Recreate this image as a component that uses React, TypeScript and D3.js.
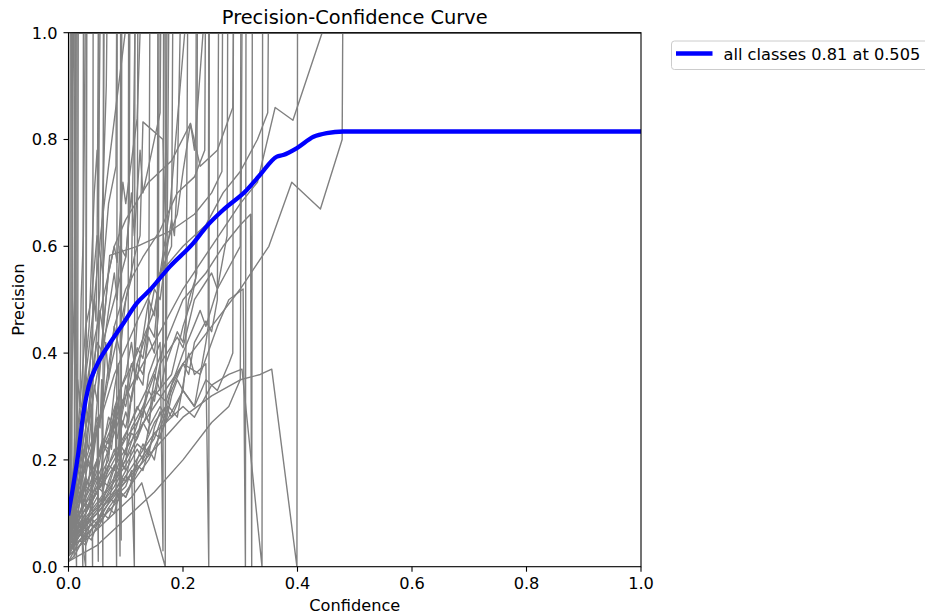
import React from "react";
import * as d3 from "d3";

// Mean precision over all classes, sampled along confidence
const meanConf = [0, 0.017, 0.026, 0.035, 0.049, 0.072, 0.096, 0.119, 0.142, 0.177, 0.218, 0.241, 0.27, 0.311, 0.334, 0.364, 0.375, 0.399, 0.428, 0.451, 0.48, 0.505, 0.527, 1.0];
const meanPrecision = [0.1, 0.212, 0.287, 0.337, 0.376, 0.418, 0.456, 0.493, 0.518, 0.562, 0.606, 0.637, 0.668, 0.705, 0.733, 0.768, 0.771, 0.784, 0.805, 0.812, 0.815, 0.815, 0.815, 0.815];

// Per-class curves whose detections all sit near zero confidence
const earlyClasses: [number, number][][] = [
  [[0, 0.02], [0.002, 0.05], [0.003, 1], [1, 1]],
  [[0, 0.03], [0.002, 0.06], [0.003, 0.04], [0.004, 0.15], [0.005, 1], [1, 1]],
  [[0, 0.04], [0.003, 0.1], [0.005, 0.07], [0.006, 0.18], [0.007, 1], [1, 1]],
  [[0, 0.05], [0.003, 0.12], [0.005, 0.3], [0.007, 0.55], [0.008, 0.9], [0.009, 1], [1, 1]],
  [[0, 0.03], [0.004, 0.09], [0.007, 0.06], [0.01, 0.02], [0.011, 1], [1, 1]],
  [[0, 0.06], [0.004, 0.1], [0.008, 0.14], [0.011, 0.25], [0.012, 0.38], [0.013, 1], [1, 1]],
  [[0, 0.02], [0.005, 0.06], [0.009, 0.04], [0.012, 0.08], [0.014, 0.0], [0.015, 1], [1, 1]],
  [[0, 0.05], [0.005, 0.1], [0.01, 0.12], [0.013, 0.19], [0.016, 0.22], [0.017, 1], [1, 1]],
  [[0, 0.04], [0.006, 0.07], [0.01, 0.09], [0.015, 0.13], [0.02, 0.17], [0.023, 0.12], [0.025, 0.0], [0.026, 1], [1, 1]],
  [[0, 0.07], [0.006, 0.1], [0.01, 0.12], [0.016, 0.18], [0.02, 0.2], [0.025, 0.26], [0.028, 0.3], [0.031, 0.42], [0.032, 1], [1, 1]],
  [[0, 0.05], [0.01, 0.09], [0.015, 0.08], [0.02, 0.13], [0.03, 0.17], [0.035, 0.15], [0.04, 0.22], [0.05, 0.28], [0.055, 0.26], [0.058, 0.35], [0.06, 0.0], [0.061, 1], [1, 1]],
  [[0, 0.08], [0.008, 0.12], [0.015, 0.16], [0.022, 0.21], [0.03, 0.26], [0.038, 0.3], [0.045, 0.37], [0.05, 0.45], [0.055, 0.52], [0.06, 0.7], [0.066, 0.9], [0.067, 1], [1, 1]],
  [[0, 0.03], [0.005, 0.07], [0.01, 0.12], [0.012, 0.2], [0.016, 0.35], [0.02, 0.3], [0.022, 0.5], [0.026, 0.62], [0.028, 0.85], [0.029, 1], [1, 1]],
  [[0, 0.1], [0.003, 0.2], [0.006, 0.35], [0.01, 0.5], [0.012, 0.8], [0.013, 1], [1, 1]],
  [[0, 0.04], [0.01, 0.1], [0.02, 0.08], [0.03, 0.0], [0.031, 1], [1, 1]],
  [[0, 0.06], [0.01, 0.14], [0.018, 0.22], [0.025, 0.3], [0.03, 0.38], [0.036, 0.45], [0.04, 0.56], [0.045, 0.7], [0.05, 0.78], [0.052, 0.68], [0.055, 1], [1, 1]],
  [[0, 0.06], [0.005, 0.09], [0.01, 0.08], [0.015, 0.12], [0.02, 0.14], [0.025, 0.13], [0.03, 0.17], [0.035, 0.2], [0.04, 0.18], [0.045, 0.23], [0.05, 0.26], [0.052, 0.01], [0.053, 1], [1, 1]],
  [[0, 0.08], [0.005, 0.11], [0.01, 0.14], [0.015, 0.13], [0.02, 0.18], [0.025, 0.22], [0.03, 0.2], [0.035, 0.26], [0.04, 0.3], [0.042, 0.0], [0.043, 1], [1, 1]],
  [[0, 0.05], [0.005, 0.08], [0.01, 0.1], [0.015, 0.15], [0.02, 0.13], [0.025, 0.19], [0.03, 0.24], [0.035, 0.22], [0.04, 0.28], [0.045, 0.34], [0.05, 0.31], [0.055, 0.38], [0.06, 0.44], [0.062, 1], [1, 1]],
  [[0, 0.09], [0.005, 0.14], [0.01, 0.18], [0.015, 0.24], [0.02, 0.22], [0.025, 0.3], [0.03, 0.36], [0.035, 0.33], [0.04, 0.42], [0.045, 0.5], [0.048, 0.46], [0.05, 0.6], [0.052, 1], [1, 1]],
];

// Classes whose highest confidence falls between roughly 0.08 and 0.25
const midClasses: [number, number][][] = [
  [[0, 0.03], [0.02, 0.07], [0.03, 0.06], [0.04, 0.12], [0.05, 0.14], [0.06, 0.18], [0.07, 0.2], [0.075, 0.26], [0.082, 0.3], [0.084, 0.0], [0.085, 1], [1, 1]],
  [[0, 0.06], [0.02, 0.1], [0.03, 0.14], [0.04, 0.16], [0.05, 0.2], [0.06, 0.24], [0.07, 0.23], [0.08, 0.33], [0.087, 0.38], [0.09, 0.02], [0.091, 1], [1, 1]],
  [[0, 0.1], [0.01, 0.18], [0.02, 0.28], [0.035, 0.4], [0.045, 0.5], [0.056, 0.62], [0.07, 0.75], [0.099, 1], [1, 1]],
  [[0, 0.1], [0.01, 0.2], [0.02, 0.3], [0.03, 0.45], [0.04, 0.5], [0.05, 0.62], [0.06, 0.55], [0.07, 0.68], [0.083, 0.75], [0.084, 1], [1, 1]],
  [[0, 0.09], [0.02, 0.15], [0.04, 0.22], [0.05, 0.26], [0.06, 0.3], [0.075, 0.38], [0.09, 0.45], [0.1, 0.5], [0.115, 0.58], [0.125, 0.62], [0.13, 0.833], [0.165, 0.8], [0.17, 0.62], [0.172, 1], [1, 1]],
  [[0, 0.04], [0.03, 0.08], [0.06, 0.12], [0.08, 0.15], [0.09, 0.17], [0.1, 0.16], [0.11, 0.22], [0.13, 0.27], [0.14, 0.25], [0.145, 0.32], [0.155, 0.38], [0.156, 1], [1, 1]],
  [[0, 0.07], [0.02, 0.17], [0.04, 0.3], [0.06, 0.42], [0.08, 0.5], [0.1, 0.58], [0.11, 0.7], [0.115, 0.62], [0.125, 0.78], [0.13, 0.7], [0.16, 0.85], [0.161, 1], [1, 1]],
  [[0, 0.05], [0.03, 0.1], [0.06, 0.16], [0.07, 0.15], [0.09, 0.22], [0.12, 0.3], [0.13, 0.28], [0.14, 0.36], [0.16, 0.42], [0.165, 0.03], [0.166, 1], [1, 1]],
  [[0, 0.02], [0.03, 0.05], [0.06, 0.08], [0.09, 0.11], [0.11, 0.13], [0.128, 0.157], [0.169, 0], [0.17, 1], [1, 1]],
  [[0, 0.07], [0.03, 0.12], [0.06, 0.19], [0.09, 0.28], [0.1, 0.26], [0.12, 0.38], [0.14, 0.45], [0.15, 0.43], [0.16, 0.55], [0.177, 0.67], [0.203, 1], [1, 1]],
  [[0, 0.05], [0.03, 0.13], [0.06, 0.23], [0.09, 0.33], [0.12, 0.4], [0.15, 0.48], [0.17, 0.6], [0.19, 0.66], [0.2, 0.74], [0.213, 0.83], [0.22, 0.78], [0.235, 1], [1, 1]],
  [[0, 0.05], [0.04, 0.1], [0.08, 0.16], [0.1, 0.2], [0.12, 0.24], [0.15, 0.32], [0.18, 0.36], [0.2, 0.45], [0.215, 0.5], [0.224, 0.55], [0.225, 1], [1, 1]],
  [[0, 0.1], [0.03, 0.2], [0.06, 0.3], [0.08, 0.45], [0.1, 0.52], [0.13, 0.58], [0.16, 0.63], [0.19, 0.7], [0.22, 0.73], [0.238, 0.78], [0.239, 1], [1, 1]],
  [[0, 0.03], [0.05, 0.08], [0.1, 0.14], [0.14, 0.2], [0.17, 0.27], [0.2, 0.33], [0.22, 0.3], [0.24, 0.42], [0.244, 0.45], [0.245, 1], [1, 1]],
  [[0, 0.02], [0.01, 0.04], [0.02, 0.06], [0.03, 0.05], [0.04, 0.09], [0.05, 0.1], [0.06, 0.13], [0.07, 0.12], [0.08, 0.17], [0.09, 0.2], [0.1, 0.18], [0.104, 0.27], [0.105, 1], [1, 1]],
  [[0, 0.06], [0.01, 0.08], [0.02, 0.12], [0.03, 0.15], [0.04, 0.14], [0.05, 0.2], [0.06, 0.22], [0.07, 0.28], [0.08, 0.26], [0.09, 0.33], [0.1, 0.36], [0.11, 0.42], [0.115, 0.38], [0.12, 0.46], [0.121, 1], [1, 1]],
  [[0, 0.04], [0.02, 0.08], [0.03, 0.1], [0.05, 0.16], [0.06, 0.15], [0.07, 0.22], [0.08, 0.27], [0.085, 0.24], [0.1, 0.32], [0.11, 0.38], [0.12, 0.35], [0.13, 0.43], [0.14, 0.5], [0.15, 0.47], [0.16, 0.55], [0.18, 0.6], [0.182, 1], [1, 1]],
  [[0, 0.07], [0.01, 0.1], [0.02, 0.14], [0.03, 0.2], [0.04, 0.18], [0.05, 0.26], [0.06, 0.3], [0.065, 0.42], [0.07, 0.35], [0.08, 0.45], [0.09, 0.4], [0.1, 0.5], [0.11, 0.54], [0.116, 1], [1, 1]],
  [[0, 0.05], [0.01, 0.07], [0.03, 0.11], [0.05, 0.14], [0.07, 0.19], [0.08, 0.18], [0.09, 0.23], [0.1, 0.21], [0.11, 0.26], [0.13, 0.3], [0.15, 0.36], [0.16, 0.33], [0.17, 0.38], [0.19, 0.44], [0.2, 0.42], [0.21, 0.5], [0.222, 0.54], [0.223, 1], [1, 1]],
  [[0, 0.09], [0.01, 0.16], [0.02, 0.22], [0.03, 0.3], [0.035, 0.27], [0.04, 0.36], [0.05, 0.42], [0.06, 0.4], [0.07, 0.48], [0.08, 0.55], [0.085, 0.5], [0.09, 0.6], [0.1, 0.58], [0.106, 0.66], [0.107, 1], [1, 1]],
  [[0, 0.06], [0.02, 0.1], [0.03, 0.13], [0.05, 0.17], [0.06, 0.23], [0.07, 0.21], [0.08, 0.29], [0.09, 0.27], [0.1, 0.34], [0.11, 0.31], [0.12, 0.38], [0.13, 0.36], [0.14, 0.43], [0.15, 0.4], [0.157, 0.47], [0.158, 1], [1, 1]],
  [[0, 0.1], [0.01, 0.15], [0.02, 0.22], [0.025, 0.3], [0.03, 0.26], [0.04, 0.34], [0.05, 0.38], [0.055, 0.48], [0.06, 0.44], [0.07, 0.55], [0.08, 0.6], [0.085, 0.57], [0.09, 0.65], [0.095, 0.72], [0.1, 0.68], [0.11, 0.76], [0.12, 0.84], [0.125, 1], [1, 1]],
  [[0, 0.01], [0.01, 0.03], [0.02, 0.05], [0.03, 0.04], [0.04, 0.07], [0.05, 0.08], [0.06, 0.1], [0.07, 0.09], [0.08, 0.12], [0.09, 0.14], [0.1, 0.13], [0.11, 0.16], [0.12, 0.19], [0.13, 0.18], [0.14, 0.22], [0.15, 0.25], [0.16, 0.24], [0.17, 0.28], [0.175, 1], [1, 1]],
  [[0, 0.04], [0.01, 0.07], [0.015, 0.06], [0.02, 0.1], [0.03, 0.12], [0.035, 0.11], [0.04, 0.15], [0.05, 0.18], [0.055, 0.16], [0.06, 0.21], [0.07, 0.24], [0.075, 0.22], [0.08, 0.27], [0.09, 0.3], [0.092, 0.05], [0.093, 1], [1, 1]],
  [[0, 0.02], [0.01, 0.05], [0.02, 0.08], [0.025, 0.07], [0.03, 0.1], [0.04, 0.12], [0.05, 0.15], [0.06, 0.14], [0.07, 0.19], [0.08, 0.22], [0.085, 0.2], [0.09, 0.25], [0.1, 0.29], [0.105, 0.27], [0.11, 0.32], [0.12, 0.36], [0.13, 0.34], [0.135, 0.4], [0.14, 0.45], [0.142, 1], [1, 1]],
  [[0, 0.03], [0.02, 0.06], [0.04, 0.09], [0.05, 0.08], [0.06, 0.11], [0.07, 0.13], [0.08, 0.12], [0.09, 0.15], [0.1, 0.17], [0.11, 0.16], [0.12, 0.2], [0.13, 0.23], [0.14, 0.21], [0.15, 0.26], [0.16, 0.29], [0.17, 0.27], [0.18, 0.32], [0.19, 0.35], [0.2, 0.33], [0.205, 0.38], [0.208, 1], [1, 1]],
  [[0, 0.01], [0.01, 0.02], [0.02, 0.04], [0.03, 0.06], [0.04, 0.05], [0.05, 0.08], [0.06, 0.09], [0.07, 0.11], [0.08, 0.1], [0.09, 0.14], [0.1, 0.15], [0.11, 0.18], [0.115, 0.0], [0.116, 1], [1, 1]],
  [[0, 0.07], [0.01, 0.1], [0.02, 0.13], [0.03, 0.16], [0.04, 0.15], [0.05, 0.2], [0.06, 0.23], [0.07, 0.22], [0.08, 0.28], [0.09, 0.32], [0.1, 0.3], [0.11, 0.36], [0.12, 0.41], [0.13, 0.39], [0.14, 0.46], [0.15, 0.52], [0.16, 0.5], [0.17, 0.58], [0.18, 0.65], [0.185, 0.62], [0.19, 0.72], [0.195, 1], [1, 1]],
  [[0, 0.03], [0.01, 0.04], [0.02, 0.06], [0.03, 0.08], [0.04, 0.11], [0.05, 0.13], [0.06, 0.12], [0.07, 0.16], [0.08, 0.19], [0.09, 0.18], [0.1, 0.22], [0.11, 0.25], [0.12, 0.24], [0.13, 0.29], [0.14, 0.33], [0.15, 0.31], [0.16, 0.37], [0.165, 0.42], [0.167, 1], [1, 1]],
];

// Classes that keep detections up to 0.25 - 0.48 confidence
const lateClasses: [number, number][][] = [
  [[0, 0.08], [0.02, 0.12], [0.04, 0.18], [0.072, 0.583], [0.12, 0.6], [0.18, 0.63], [0.22, 0.66], [0.25, 0.7], [0.268, 0.74], [0.269, 1], [1, 1]],
  [[0, 0.05], [0.05, 0.12], [0.07, 0.15], [0.1, 0.2], [0.13, 0.3], [0.14, 0.27], [0.16, 0.38], [0.19, 0.43], [0.2, 0.41], [0.22, 0.5], [0.25, 0.55], [0.26, 0.52], [0.277, 0.62], [0.278, 1], [1, 1]],
  [[0, 0.12], [0.02, 0.25], [0.04, 0.4], [0.06, 0.5], [0.08, 0.6], [0.1, 0.65], [0.14, 0.72], [0.18, 0.76], [0.213, 0.83], [0.23, 0.75], [0.26, 0.78], [0.287, 0.86], [0.288, 1], [1, 1]],
  [[0, 0.06], [0.05, 0.14], [0.1, 0.24], [0.12, 0.27], [0.15, 0.33], [0.17, 0.31], [0.2, 0.4], [0.23, 0.48], [0.24, 0.45], [0.26, 0.52], [0.3, 0.6], [0.301, 1], [1, 1]],
  [[0, 0.04], [0.05, 0.09], [0.1, 0.16], [0.15, 0.24], [0.18, 0.33], [0.2, 0.38], [0.23, 0.36], [0.26, 0.45], [0.28, 0.5], [0.305, 0.52], [0.309, 0], [0.31, 1], [1, 1]],
  [[0, 0.07], [0.05, 0.15], [0.1, 0.25], [0.14, 0.34], [0.17, 0.42], [0.2, 0.5], [0.24, 0.55], [0.27, 0.6], [0.3, 0.64], [0.318, 0.66], [0.32, 0], [0.321, 1], [1, 1]],
  [[0, 0.05], [0.05, 0.1], [0.1, 0.17], [0.15, 0.25], [0.2, 0.3], [0.22, 0.28], [0.25, 0.34], [0.28, 0.36], [0.303, 0.37], [0.338, 0], [0.339, 1], [1, 1]],
  [[0, 0.1], [0.04, 0.22], [0.08, 0.36], [0.12, 0.46], [0.16, 0.55], [0.2, 0.6], [0.24, 0.64], [0.27, 0.7], [0.3, 0.74], [0.33, 0.8], [0.348, 0.85], [0.349, 1], [1, 1]],
  [[0, 0.08], [0.05, 0.2], [0.1, 0.32], [0.15, 0.42], [0.2, 0.52], [0.25, 0.6], [0.3, 0.68], [0.33, 0.72], [0.361, 0.86], [0.392, 0.836], [0.443, 1], [1, 1]],
  [[0, 0.04], [0.05, 0.1], [0.1, 0.16], [0.15, 0.22], [0.2, 0.28], [0.25, 0.32], [0.3, 0.35], [0.335, 0.36], [0.355, 0.37], [0.399, 0], [0.4, 1], [1, 1]],
  [[0, 0.06], [0.05, 0.14], [0.1, 0.22], [0.15, 0.3], [0.2, 0.38], [0.25, 0.45], [0.3, 0.52], [0.35, 0.6], [0.39, 0.72], [0.44, 0.67], [0.478, 0.8], [0.479, 1], [1, 1]],
  [[0, 0.01], [0.05, 0.04], [0.1, 0.09], [0.15, 0.14], [0.2, 0.2], [0.25, 0.27], [0.28, 0.3], [0.3, 0.35], [0.303, 1], [1, 1]],
  [[0, 0.03], [0.01, 0.05], [0.02, 0.07], [0.04, 0.1], [0.06, 0.12], [0.08, 0.16], [0.1, 0.19], [0.12, 0.23], [0.13, 0.22], [0.15, 0.27], [0.17, 0.3], [0.18, 0.28], [0.2, 0.33], [0.22, 0.3], [0.24, 0.35], [0.26, 0.33], [0.28, 0.38], [0.287, 0.4], [0.288, 1], [1, 1]],
  [[0, 0.03], [0.02, 0.05], [0.04, 0.08], [0.05, 0.07], [0.07, 0.11], [0.09, 0.14], [0.1, 0.13], [0.12, 0.18], [0.14, 0.22], [0.15, 0.2], [0.16, 0.26], [0.175, 0.3], [0.19, 0.28], [0.2, 0.34], [0.21, 0.4], [0.22, 0.36], [0.24, 0.38], [0.245, 0], [0.246, 1], [1, 1]],
  [[0, 0.02], [0.02, 0.04], [0.04, 0.07], [0.06, 0.1], [0.08, 0.14], [0.1, 0.18], [0.12, 0.22], [0.13, 0.2], [0.14, 0.26], [0.16, 0.3], [0.17, 0.28], [0.18, 0.34], [0.2, 0.38], [0.21, 0.36], [0.22, 0.42], [0.24, 0.46], [0.25, 0.44], [0.26, 0.5], [0.262, 1], [1, 1]],
];

const xTicks = [0, 0.2, 0.4, 0.6, 0.8, 1.0];
const yTicks = [0, 0.2, 0.4, 0.6, 0.8, 1.0];
const legendLabel = "all classes 0.81 at 0.505";

const W = 925;
const H = 615;
const plot = { left: 68.5, right: 641, top: 32.7, bottom: 566.7 };
const FONT = "DejaVu Sans, sans-serif";
const SMALL = 16.2;
const LARGE = 19.4;

export default function App() {
  const x = d3.scaleLinear().domain([0, 1]).range([plot.left, plot.right]);
  const y = d3.scaleLinear().domain([0, 1]).range([plot.bottom, plot.top]);
  const line = d3
    .line<[number, number]>()
    .x((d) => x(d[0]))
    .y((d) => y(d[1]));
  const smoothLine = d3
    .line<[number, number]>()
    .x((d) => x(d[0]))
    .y((d) => y(d[1]))
    .curve(d3.curveMonotoneX);

  const classCurves = [...earlyClasses, ...midClasses, ...lateClasses];
  const meanCurve: [number, number][] = meanConf.map((c, i) => [c, meanPrecision[i]]);

  return (
    <svg
      width={W}
      height={H}
      viewBox={`0 0 ${W} ${H}`}
      style={{ position: "absolute", left: 0, top: 0, background: "#fff", fontFamily: FONT }}
    >
      <rect x={0} y={0} width={W} height={H} fill="#fff" />
      <defs>
        <clipPath id="plot-area">
          <rect x={plot.left} y={plot.top} width={plot.right - plot.left} height={plot.bottom - plot.top} />
        </clipPath>
      </defs>

      <g clipPath="url(#plot-area)">
        {classCurves.map((c, i) => (
          <path key={i} d={line(c) ?? ""} fill="none" stroke="#808080" strokeWidth={1.4} strokeLinejoin="round" />
        ))}
        <path d={smoothLine(meanCurve) ?? ""} fill="none" stroke="#0000ff" strokeWidth={4.3} strokeLinejoin="round" strokeLinecap="square" />
      </g>

      {/* frame */}
      <rect
        x={plot.left}
        y={plot.top}
        width={plot.right - plot.left}
        height={plot.bottom - plot.top}
        fill="none"
        stroke="#000"
        strokeWidth={1.1}
      />

      {/* x axis ticks */}
      {xTicks.map((t) => (
        <g key={"x" + t}>
          <line x1={x(t)} x2={x(t)} y1={plot.bottom} y2={plot.bottom + 5} stroke="#000" strokeWidth={1.1} />
          <text x={x(t)} y={589} fontSize={SMALL} textAnchor="middle" fill="#000">
            {t.toFixed(1)}
          </text>
        </g>
      ))}
      {/* y axis ticks */}
      {yTicks.map((t) => (
        <g key={"y" + t}>
          <line x1={plot.left - 5} x2={plot.left} y1={y(t)} y2={y(t)} stroke="#000" strokeWidth={1.1} />
          <text x={57.5} y={y(t)} dy="0.36em" fontSize={SMALL} textAnchor="end" fill="#000">
            {t.toFixed(1)}
          </text>
        </g>
      ))}

      <text x={(plot.left + plot.right) / 2} y={611} fontSize={SMALL} textAnchor="middle" fill="#000">
        Confidence
      </text>
      <text
        transform={`translate(24, ${(plot.top + plot.bottom) / 2}) rotate(-90)`}
        fontSize={SMALL}
        textAnchor="middle"
        fill="#000"
      >
        Precision
      </text>
      <text x={(plot.left + plot.right) / 2} y={24} fontSize={LARGE} textAnchor="middle" fill="#000">
        Precision-Confidence Curve
      </text>

      {/* legend */}
      <rect x={671.5} y={41} width={270} height={28.5} rx={3} fill="#fff" fillOpacity={0.8} stroke="#cccccc" strokeWidth={1} />
      <line x1={676} x2={712.5} y1={53.5} y2={53.5} stroke="#0000ff" strokeWidth={4.3} />
      <text x={723.5} y={59.5} fontSize={SMALL} fill="#000">
        {legendLabel}
      </text>
    </svg>
  );
}
